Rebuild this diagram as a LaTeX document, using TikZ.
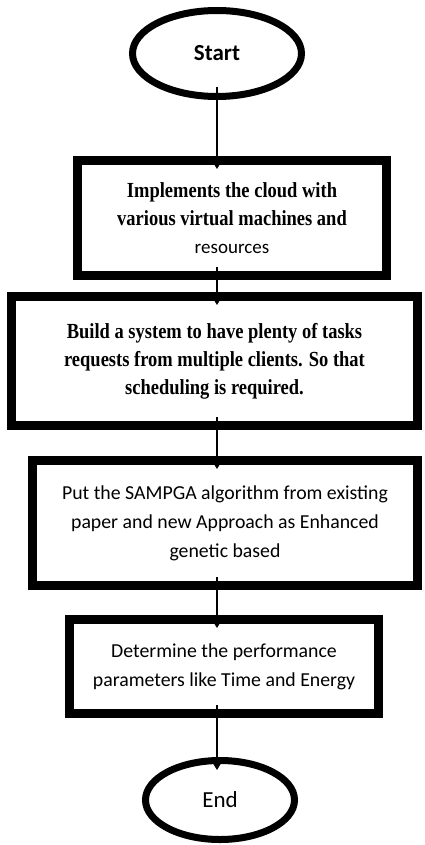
\documentclass[tikz,border=0pt]{standalone}
\usepackage{fontspec}
\setmainfont{Carlito}
\newfontfamily\boldserif[FakeStretch=0.86]{Liberation Serif}
\usetikzlibrary{shapes.geometric}
\usetikzlibrary{arrows.meta}

\begin{document}
\begin{tikzpicture}[x=1pt,y=-1pt,
    terminal/.style={ellipse, draw, line width=7pt, inner sep=0pt, minimum width=#1, minimum height=84pt, font=\fontsize{23}{27}\selectfont},
    procbox/.style={rectangle, draw, line width=9pt, align=center, inner sep=0pt},
    serifbox/.style={procbox, font=\boldserif\bfseries\fontsize{21.5}{28}\selectfont},
    sansbox/.style={procbox, font=\fontsize{19.8}{29}\selectfont},
    flow/.style={-{Triangle[length=6pt,width=7pt]}, line width=1.1pt, shorten <=-13pt, shorten >=-13pt}]

      \path[use as bounding box] (0,0) rectangle (425,845);

      \node[terminal=169pt, minimum height=86pt] (start) at (217,53.5) {\textbf{Start}};

      \node[serifbox, minimum width=309pt, minimum height=115pt] (cloud) at (232,218)
        {Implements the cloud with\\ various virtual machines and\\ {\normalfont\fontsize{19}{28}\selectfont resources}};

      \node[serifbox, minimum width=406pt, minimum height=129pt] (requests) at (214.5,361)
        {Build a system to have plenty of tasks\\ requests from multiple clients. So that\\ scheduling is required.};

      \node[sansbox, minimum width=385pt, minimum height=125pt] (sampga) at (225,523)
        {Put the SAMPGA algorithm from existing\\ paper and new Approach as Enhanced\\ genetic based};

      \node[sansbox, minimum width=309pt, minimum height=94pt] (measure) at (224,666.5)
        {Determine the performance\\ parameters like Time and Energy};

      \node[terminal=149pt, minimum height=79pt] (stop) at (220,800) {End};

      % connectors, all on the line through the start node
      \draw[flow] (start.south) -- (cloud.north -| start.south);
      \draw[flow] (cloud.south -| start.south) -- (requests.north -| start.south);
      \draw[flow] (requests.south -| start.south) -- (sampga.north -| start.south);
      \draw[flow] (sampga.south -| start.south) -- (measure.north -| start.south);
      \draw[flow] (measure.south -| start.south) -- (stop.north -| start.south);

\end{tikzpicture}
\end{document}
